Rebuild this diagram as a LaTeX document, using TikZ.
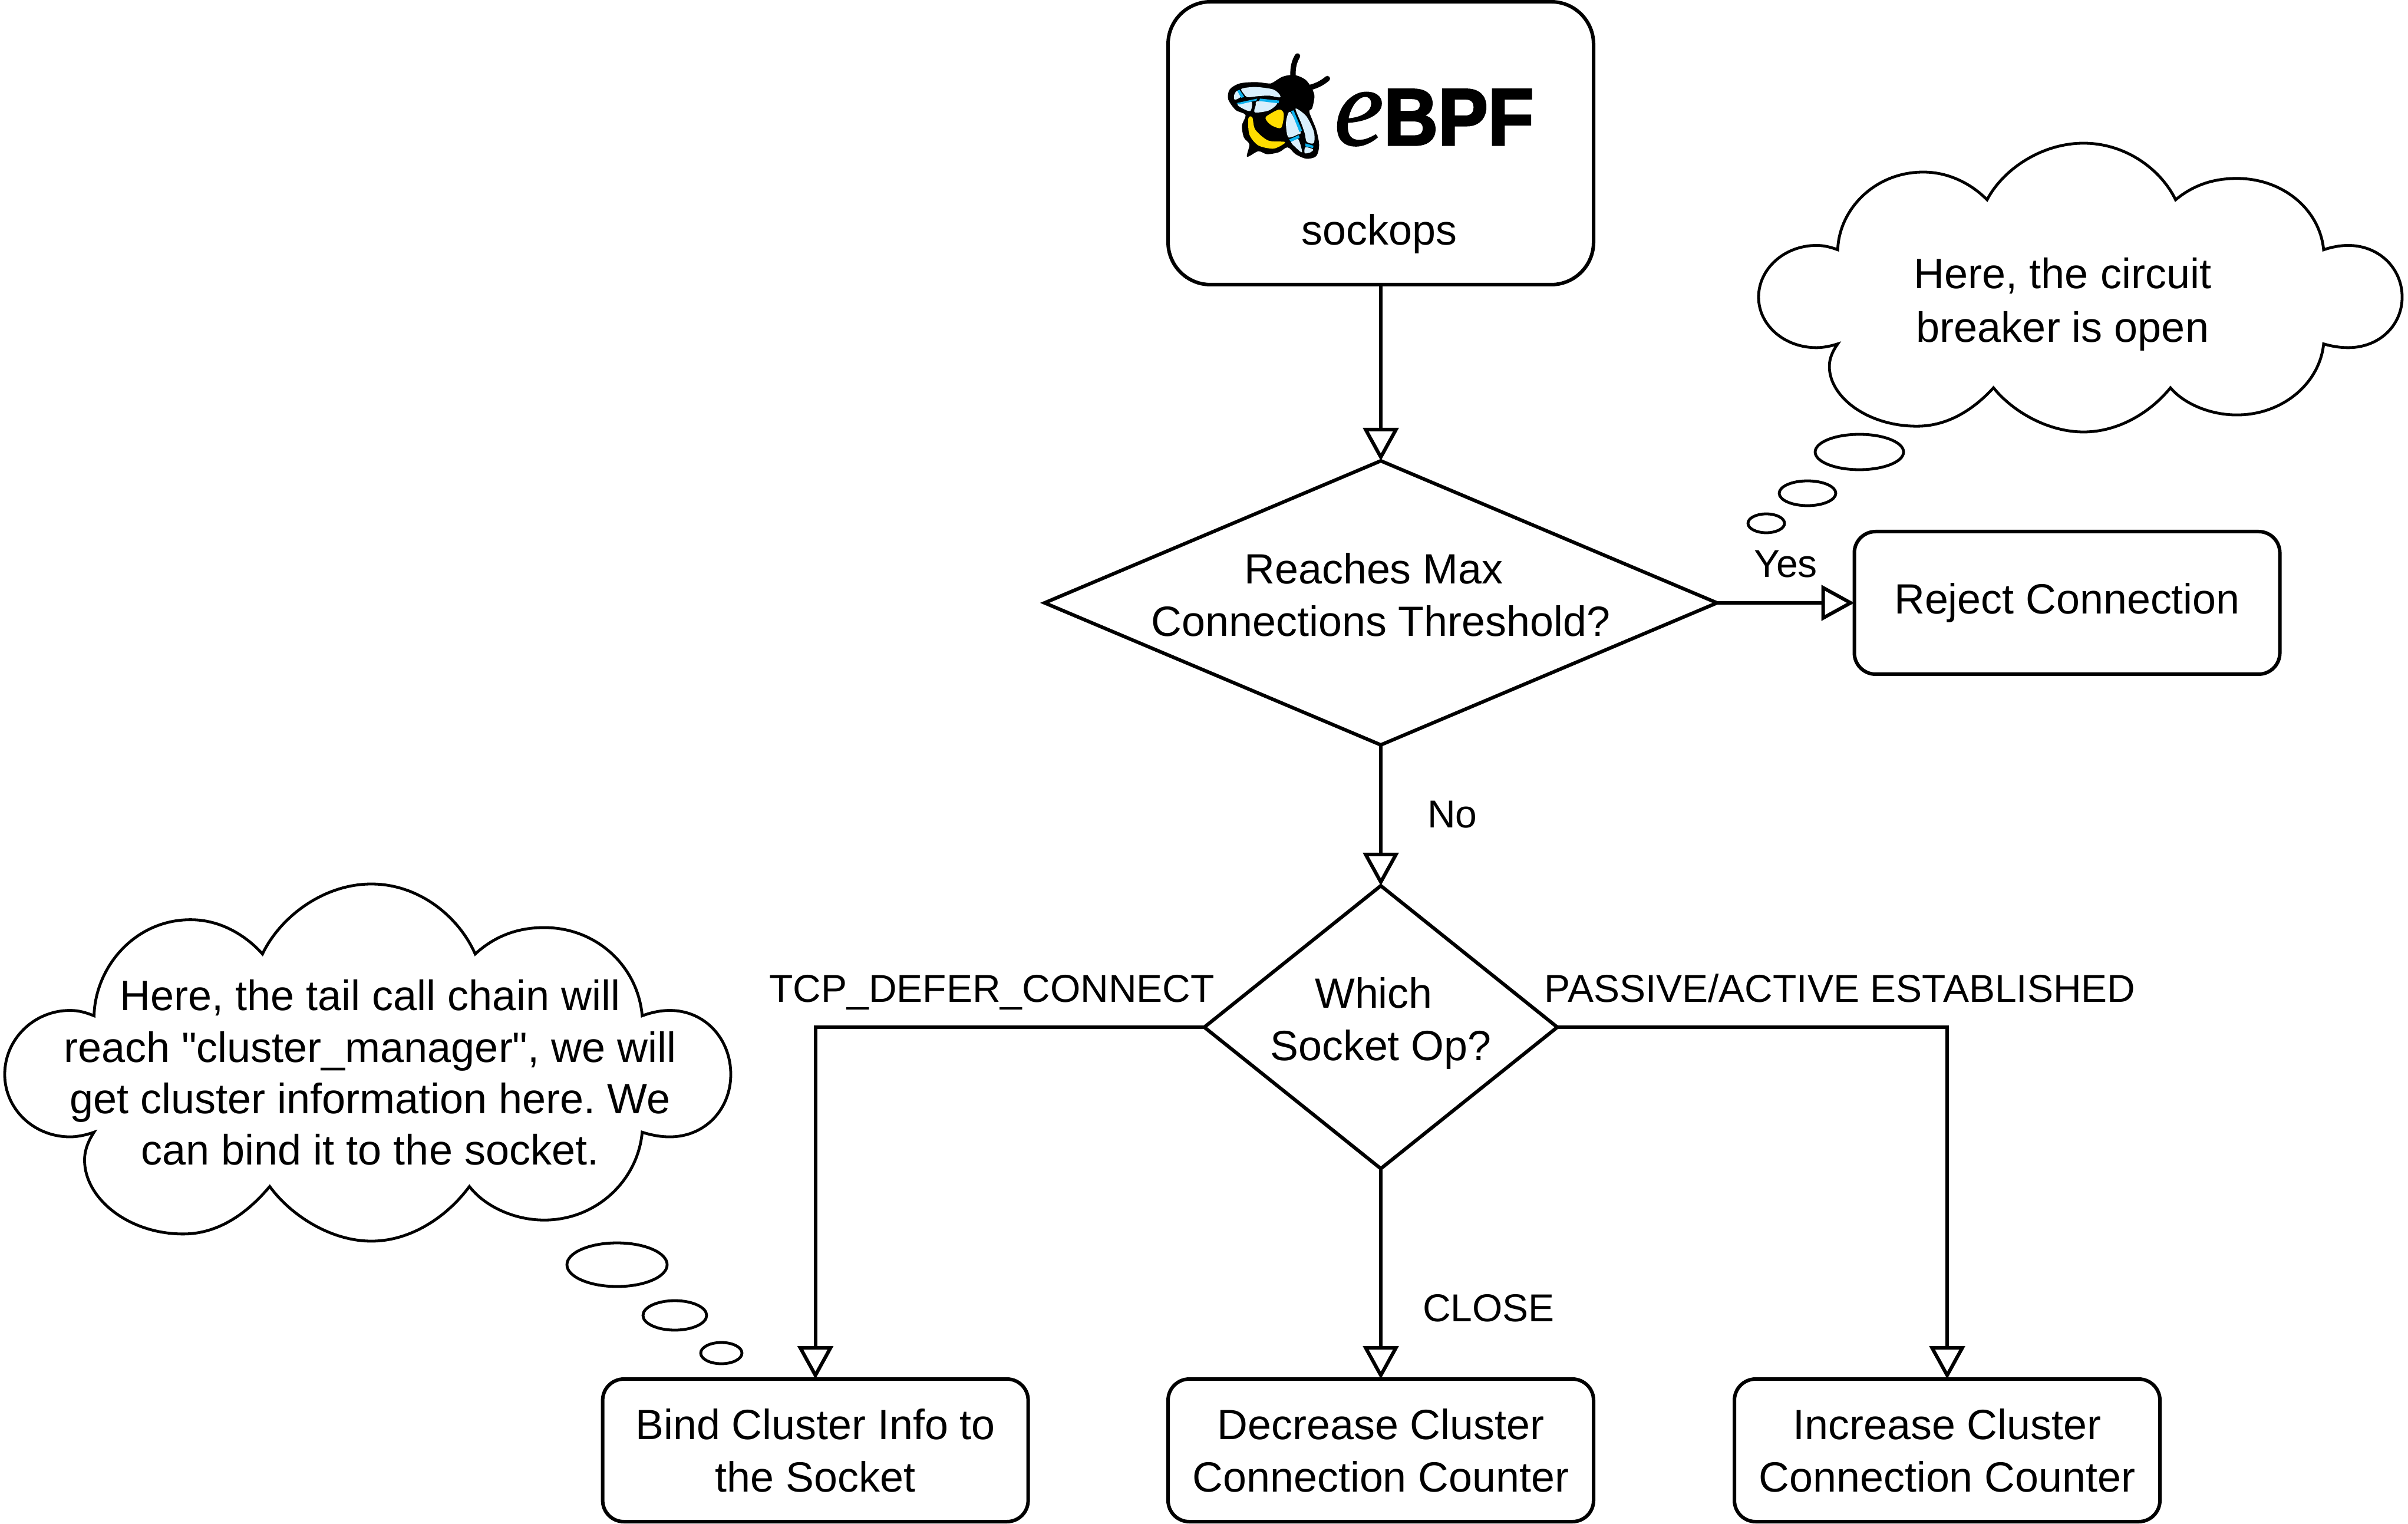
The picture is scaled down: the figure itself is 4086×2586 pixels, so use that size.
\documentclass[tikz,border=0pt]{standalone}
\usepackage{fontspec}
\setmainfont{Liberation Sans}
\newfontfamily\labelfont{Liberation Sans}
\newfontfamily\logoefont[ItalicFeatures={FakeBold=1}]{Liberation Serif}
\newfontfamily\logobpffont[BoldFeatures={FakeBold=2.5,FakeStretch=0.93}]{Liberation Sans}
\usetikzlibrary{positioning,shapes.geometric,arrows.meta}

\definecolor{beeyellow}{HTML}{FFDD00}
\definecolor{beecyan}{HTML}{0DB2EE}
\definecolor{beewing}{HTML}{D8EFFC}

\tikzset{
	drawn/.style = {draw, line width=1.5pt, outer sep=0pt, font=\fontsize{17.95}{22.2}\selectfont, align=center},
	opbox/.style = {drawn, rectangle, rounded corners=9pt, minimum width=180.5pt, minimum height=60.5pt, inner sep=0pt},
	startbox/.style = {opbox, rounded corners=18pt, minimum height=120pt},
	decision/.style = {drawn, diamond, inner sep=-5pt},
	flow/.style = {line width=1.5pt, -{Triangle[open, fill=white, length=14pt, width=15pt]}},
	note/.style = {font=\labelfont\fontsize{18}{21.8}\selectfont\frenchspacing, align=center, inner sep=0pt},
	edgetext/.style = {font=\fontsize{16.5}{20}\selectfont, text height=12pt, text depth=3.5pt, inner sep=0pt},
	bubble/.style = {line width=1.2pt},
	thoughtcloud/.pic = {
		\draw[bubble] (123,369) .. controls (125,230) and (180,100) .. (256,100)
			.. controls (300,100) and (335,150) .. (355,196)
			.. controls (380,90) and (440,0) .. (505,0)
			.. controls (570,0) and (625,90) .. (648,196)
			.. controls (670,155) and (700,122) .. (743,122)
			.. controls (815,122) and (872,230) .. (878,369)
			.. controls (890,360) and (903,354) .. (916,354)
			.. controls (965,354) and (1000,435) .. (1000,533)
			.. controls (1000,630) and (965,708) .. (916,708)
			.. controls (903,708) and (890,703) .. (878,695)
			.. controls (872,830) and (815,941) .. (743,941)
			.. controls (700,941) and (660,900) .. (640,847)
			.. controls (610,930) and (560,1000) .. (505,1000)
			.. controls (450,1000) and (395,930) .. (365,847)
			.. controls (335,920) and (295,980) .. (246,980)
			.. controls (170,980) and (110,880) .. (110,773)
			.. controls (110,745) and (115,720) .. (123,695)
			.. controls (112,703) and (100,708) .. (90,708)
			.. controls (40,708) and (0,630) .. (0,533)
			.. controls (0,435) and (40,354) .. (90,354)
			.. controls (102,354) and (112,360) .. (123,369) -- cycle;
	},
}

\begin{document}
\begin{tikzpicture}[x=0.25pt, y=-0.25pt]
	\useasboundingbox (0,0) rectangle (4086,2586);
	
	\node [startbox] (sockops) at (2343,243) {};
	\node [decision, aspect=2.367, minimum width=285.25pt, minimum height=120.5pt, text depth=7.2pt, below=74.75pt of sockops] (maxconn) {Reaches Max\kern6pt\\Connections Threshold?};
	\node [opbox, right=58.25pt of maxconn] (reject) {Reject Connection};
	\node [decision, aspect=1.248, minimum width=149.75pt, minimum height=120pt, text depth=7pt, below=59.75pt of maxconn] (whichop) {Which\kern6pt\\Socket Op?};
	\node [opbox, below=89.25pt of whichop] (decrease) {Decrease Cluster\\Connection Counter};
	\node [opbox, left=59.35pt of decrease] (bind) {Bind Cluster Info to\\the Socket};
	\node [opbox, right=59.75pt of decrease] (increase) {Increase Cluster\\Connection Counter};
	
	\node [font=\fontsize{17.95}{22.2}\selectfont, inner sep=0pt, xshift=-0.6pt, above=13pt of sockops.south] (sockopstext) {sockops};
	\node [anchor=base west, inner sep=0pt] (logotext) at (2263,246) {\fontsize{47.5}{47.5}\selectfont\logoefont\itshape e\fontsize{34.2}{34.2}\selectfont\logobpffont\upshape\bfseries BPF};
	
	\draw [flow] (sockops) -- (maxconn);
	\draw [flow] (maxconn) -- node [edgetext, above=6.5pt] (yes) {Yes} (reject);
	\draw [flow] (maxconn) -- node [edgetext, pos=0.516, right=19pt] (no) {No} (whichop);
	\draw [flow] (whichop) -- node [edgetext, pos=0.678, right=17pt] (close) {CLOSE} (decrease);
	\draw [flow] (whichop) -| node [edgetext, pos=0.273, above=6.5pt] (defer) {TCP\_DEFER\_CONNECT} (bind);
	\draw [flow] (whichop) -| node [edgetext, pos=0.3625, above=6.5pt] (established) {PASSIVE/ACTIVE ESTABLISHED} (increase);
	
	\pic [xscale=1.092, yscale=0.49] at (2984,243) {thoughtcloud};
	\node [note] (opennote) at (3500,516) {Here, the circuit\\[1pt]breaker is open};
	\draw [bubble] (3155,767) ellipse (75 and 30);
	\draw [bubble] (3067,837) ellipse (48 and 21);
	\draw [bubble] (2997,888) ellipse (31 and 16);
	
	\pic [xscale=1.232, yscale=0.606] at (8,1500) {thoughtcloud};
	\node [note] (bindnote) at (628,1820) {Here, the tail call chain will\\reach "cluster\_manager", we will\\get cluster information here. We\\can bind it to the socket.};
	\draw [bubble] (1047,2146) ellipse (85 and 37);
	\draw [bubble] (1145,2232) ellipse (54 and 25);
	\draw [bubble] (1224,2296) ellipse (35 and 18);
	
	\begin{scope}[shift={(2070,80)}, scale=1/3]
		\draw [line width=2.3pt, line cap=round] (372,150) .. controls (370,100) and (380,70) .. (395,45);
		\draw [line width=2.3pt, line cap=round] (460,205) .. controls (500,195) and (530,175) .. (547,160);
		\fill plot [smooth cycle] coordinates {(270,180) (320,150) (380,142) (440,170) (480,240) (470,310) (455,330) (490,420) (505,500) (490,555) (440,568) (385,545) (345,510) (300,535) (240,545) (195,530) (138,558) (150,495) (122,460) (112,400) (130,345) (80,320) (42,265) (50,215) (100,185) (180,178) (250,185)};
		\fill [beeyellow] plot [smooth cycle] coordinates {(145,362) (165,358) (180,420) (245,475) (328,482) (318,497) (270,517) (195,500) (150,445)};
		\fill [beeyellow] plot [smooth cycle] coordinates {(235,354) (300,318) (325,340) (312,410) (270,402) (242,380)};
		\fill [beewing] plot [smooth cycle] coordinates {(110,212) (180,203) (270,215) (305,243) (303,256) (250,247) (190,250) (140,255) (122,238)};
		\fill [beewing] plot [smooth cycle] coordinates {(72,245) (88,222) (108,250) (76,268)};
		\fill [beecyan] (88,222) -- (100,217) -- (124,254) -- (108,258) -- cycle;
		\fill [beewing] plot [smooth cycle] coordinates {(90,290) (160,278) (155,325) (115,312)};
		\fill [beecyan] (84,285) -- (190,262) -- (185,272) -- (100,292) -- cycle;
		\fill [beewing] plot [smooth cycle] coordinates {(192,275) (290,283) (250,322) (178,332) (182,298)};
		\fill [beecyan] (205,262) -- (302,272) -- (298,286) -- (198,274) -- cycle;
		\fill [beewing] plot [smooth cycle] coordinates {(385,313) (440,352) (478,430) (478,488) (442,482) (432,440) (415,390)};
		\fill [beewing] plot [smooth cycle] coordinates {(358,330) (410,430) (395,445) (350,460) (338,420) (338,370)};
		\fill [beecyan] (362,325) -- (375,322) -- (418,425) -- (405,432) -- cycle;
		\fill [beewing] plot [smooth cycle] coordinates {(362,482) (398,468) (418,535) (385,510)};
		\fill [beecyan] (352,470) -- (402,448) -- (405,462) -- (362,482) -- cycle;
		\fill [beewing] plot [smooth cycle] coordinates {(435,510) (474,520) (462,535) (432,540)};
		\fill [beecyan] (435,490) -- (476,502) -- (474,514) -- (435,505) -- cycle;
	\end{scope}
	
\end{tikzpicture}
\end{document}
